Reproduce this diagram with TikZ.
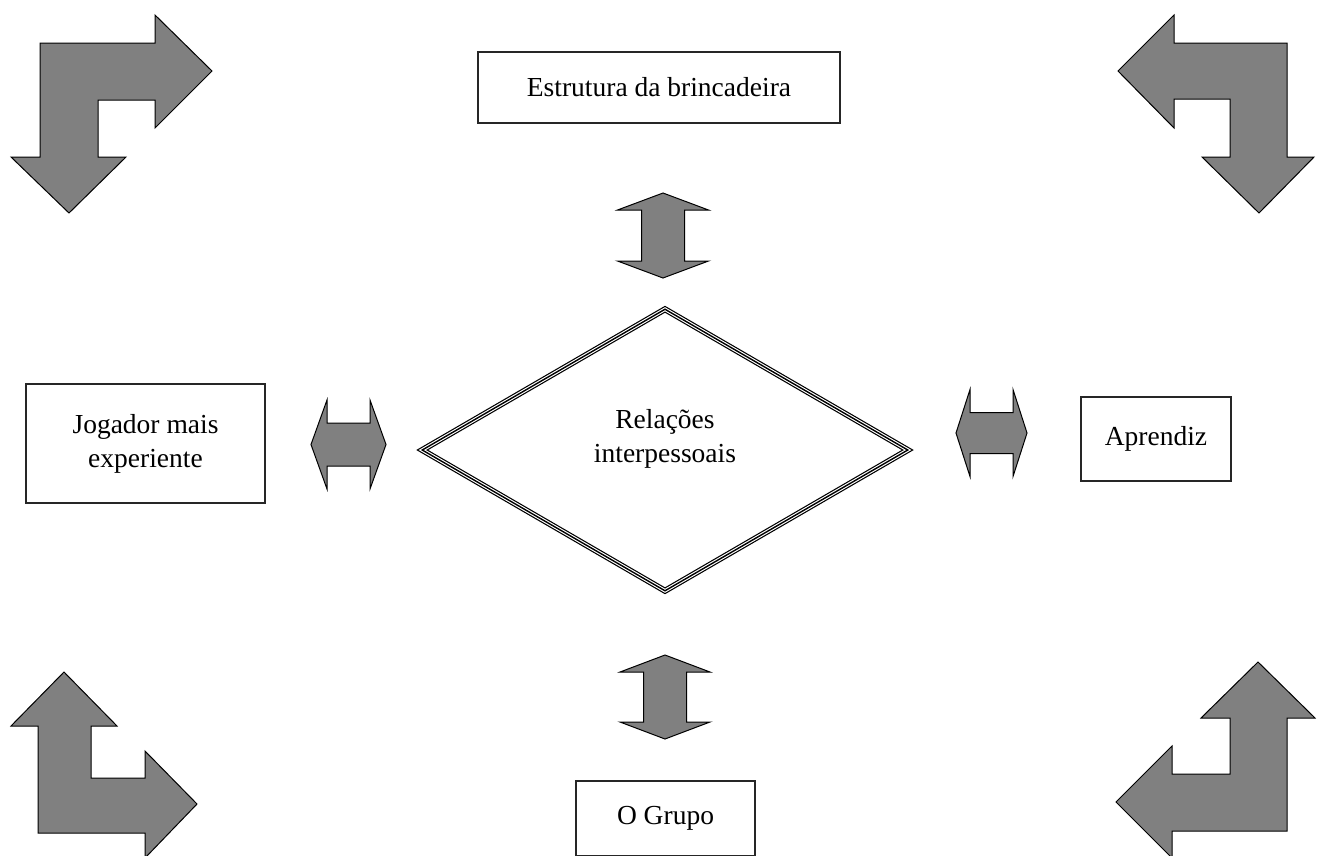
\documentclass[tikz,border=0pt]{standalone}
\usepackage{fontspec}
\setmainfont{Liberation Serif}
\usetikzlibrary{shapes.geometric}

\begin{document}
\begin{tikzpicture}[x=1pt, y=-1pt,
        box/.style = {draw=black!85, line width=1.2pt, inner sep=0pt, align=center,
            font=\fontsize{27.5}{34}\selectfont},
        blk/.style = {draw=black, line width=1pt, fill=black!50, line join=miter},
        rhomb/.style = {diamond, draw=black, line width=6pt, fill=white, inner sep=0pt,
            postaction={draw=white, line width=3.6pt},
            postaction={draw=black, line width=1.4pt}}]
        \clip (0,0) rectangle (1321,855);
        % boxes
        \node[box, minimum width=362pt, minimum height=71pt] (est) at (659,87.5) {Estrutura da brincadeira};
        \node[box, minimum width=239pt, minimum height=119pt] (jog) at (145.5,443.5) {Jogador mais\\experiente};
        \node[box, minimum width=150pt, minimum height=84pt] (apr) at (1156,439) {Aprendiz};
        \node[box, minimum width=179pt, minimum height=75pt] (grp) at (665.5,818.5) {O Grupo};
        \node[rhomb, minimum width=488pt, minimum height=284pt] (rel) at (665,450) {};
        \node[box, draw=none] (relt) at (665,439) {Relações\\interpessoais};
        % double arrows
        \foreach \cx/\cy/\L/\h/\H/\s/\r in {663/235.5/42.5/17/45.5/21.5/0, 665/697/42/17/45/21.5/0,
                348.5/444.5/37.5/16/44.5/21.5/90, 991.5/433/35.5/14/43.5/20.5/90}
            \draw[blk, shift={(\cx,\cy)}, rotate=\r] (0,-\L) -- (\H,-\L+\h) -- (\s,-\L+\h) -- (\s,\L-\h)
                -- (\H,\L-\h) -- (0,\L) -- (-\H,\L-\h) -- (-\s,\L-\h) -- (-\s,-\L+\h) -- (-\H,-\L+\h) -- cycle;
        % corner arrows
        \draw[blk] (212,71) -- (155,15) -- (155,43) -- (40,43) -- (40,157) -- (11,157) -- (69,213)
            -- (126,157) -- (98,157) -- (98,100) -- (155,100) -- (155,128) -- cycle;
        \draw[blk] (1118,71) -- (1174,15) -- (1174,43) -- (1287,43) -- (1287,157) -- (1314,157) -- (1259,213)
            -- (1202,157) -- (1230,157) -- (1230,99) -- (1174,99) -- (1174,128) -- cycle;
        \draw[blk] (64,672) -- (11,726) -- (38,726) -- (38,833) -- (145,833) -- (145,858) -- (197,804)
            -- (145,751) -- (145,778) -- (91,778) -- (91,726) -- (117,726) -- cycle;
        \draw[blk] (1258,662) -- (1315,718) -- (1287,718) -- (1287,831) -- (1172,831) -- (1172,858) -- (1116,802)
            -- (1172,746) -- (1172,774) -- (1230,774) -- (1230,718) -- (1201,718) -- cycle;
\end{tikzpicture}
\end{document}
